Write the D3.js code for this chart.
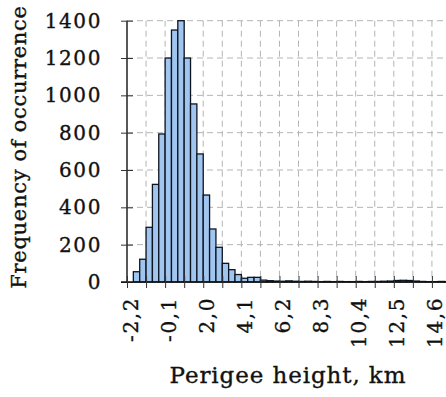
<!DOCTYPE html>
<html>
<head>
<meta charset="utf-8">
<script src="https://cdn.jsdelivr.net/npm/d3@7"></script>
<style>
  html, body { margin: 0; padding: 0; background: #fff; }
  svg { display: block; }
  text { font-family: "DejaVu Serif", "Liberation Serif", serif; fill: #111; stroke: #111; stroke-width: 0.35px; }
</style>
</head>
<body>
<svg id="chart" width="446" height="397"></svg>
<script>
// Histogram of perigee heights: bins 0.35 km wide starting at -2.2 km
const binStart = -2.2;
const binWidth = 0.35;
const counts = [
  0, 55, 122, 293, 523, 793, 1200, 1350, 1400, 1200,
  954, 686, 466, 284, 186, 100, 66, 40, 20, 25,
  25, 10, 7, 5, 4, 6, 4, 3, 4, 3,
  2, 3, 2, 3, 2, 2, 3, 2, 3, 3,
  4, 5, 8, 9, 8, 5, 3, 2, 2, 3,
  2, 2
];

// Axis ticks: every 1.05 km along x, labels on every second one
const xTickStep = 1.05;
const xTickCount = 17;
const yTicks = [0, 200, 400, 600, 800, 1000, 1200, 1400];

const xTitle = "Perigee height, km";
const yTitle = "Frequency of occurrence";

const svg = d3.select("#chart");
const left = 127, baseY = 282, topY = 20.7;
const pxPerKm = 18.15;
const xMax = 15.9;

const x = d3.scaleLinear()
  .domain([binStart, xMax])
  .range([left, left + (xMax - binStart) * pxPerKm]);
const y = d3.scaleLinear().domain([0, 1400]).range([baseY, topY]);

const xTickValues = d3.range(xTickCount).map(i => binStart + i * xTickStep);
const locale = d3.formatLocale({ decimal: ",", thousands: "", grouping: [3], currency: ["", ""], minus: "-" });
const fmt = locale.format(".1f");

// grid
const grid = svg.append("g").attr("stroke", "#b4b4b4").attr("stroke-width", 1)
  .attr("stroke-dasharray", "6,4");
grid.selectAll(".gx").data(xTickValues.slice(1)).join("line")
  .attr("x1", d => x(d)).attr("x2", d => x(d))
  .attr("y1", y(1400)).attr("y2", baseY);
grid.selectAll(".gy").data(yTicks.slice(1)).join("line")
  .attr("x1", left).attr("x2", 446)
  .attr("y1", d => y(d)).attr("y2", d => y(d));

// bars
svg.append("g").selectAll("rect").data(counts).join("rect")
  .attr("x", (d, i) => x(binStart + i * binWidth))
  .attr("width", x(binWidth) - x(0))
  .attr("y", d => y(d))
  .attr("height", d => baseY - y(d))
  .attr("fill", "#a0c5ef")
  .attr("stroke", "#0d1420")
  .attr("stroke-width", 1.3);

// y axis
const yAxis = svg.append("g").attr("transform", `translate(${left},0)`)
  .call(d3.axisLeft(y).tickValues(yTicks).tickSize(6).tickPadding(19).tickFormat(d3.format("d")));
yAxis.select(".domain").attr("stroke", "#111").attr("stroke-width", 1.4).attr("d", `M0,${y(1400)}V${baseY}`);
yAxis.selectAll(".tick line").attr("x1", -6).attr("x2", 6).attr("stroke", "#333");
yAxis.selectAll(".tick text").attr("font-size", 20).attr("letter-spacing", 1.6)
  .style("font-family", '"DejaVu Serif", serif').attr("fill", "#111");

// x axis
const xAxis = svg.append("g").attr("transform", `translate(0,${baseY})`)
  .call(d3.axisBottom(x).tickValues(xTickValues).tickSize(6)
    .tickFormat((d, i) => i % 2 === 0 ? fmt(d) : ""));
xAxis.select(".domain").attr("stroke", "#111").attr("stroke-width", 1.6).attr("d", `M${left - 6},0H446`);
xAxis.selectAll(".tick line").attr("y1", -6).attr("y2", 6).attr("stroke", "#333");
xAxis.selectAll(".tick text")
  .attr("font-size", 20).attr("letter-spacing", 1.6)
  .style("font-family", '"DejaVu Serif", serif').attr("fill", "#111")
  .attr("text-anchor", "end")
  .attr("transform", "rotate(-90)")
  .attr("x", -15).attr("y", 0).attr("dy", "0.5em");

// axis titles
svg.append("text")
  .attr("x", 288).attr("y", 383)
  .attr("text-anchor", "middle")
  .attr("font-size", 23)
  .attr("letter-spacing", 0.9)
  .text(xTitle);

svg.append("text")
  .attr("transform", "translate(26,147) rotate(-90)")
  .attr("text-anchor", "middle")
  .attr("font-size", 21)
  .attr("letter-spacing", 0.7)
  .text(yTitle);
</script>
</body>
</html>
